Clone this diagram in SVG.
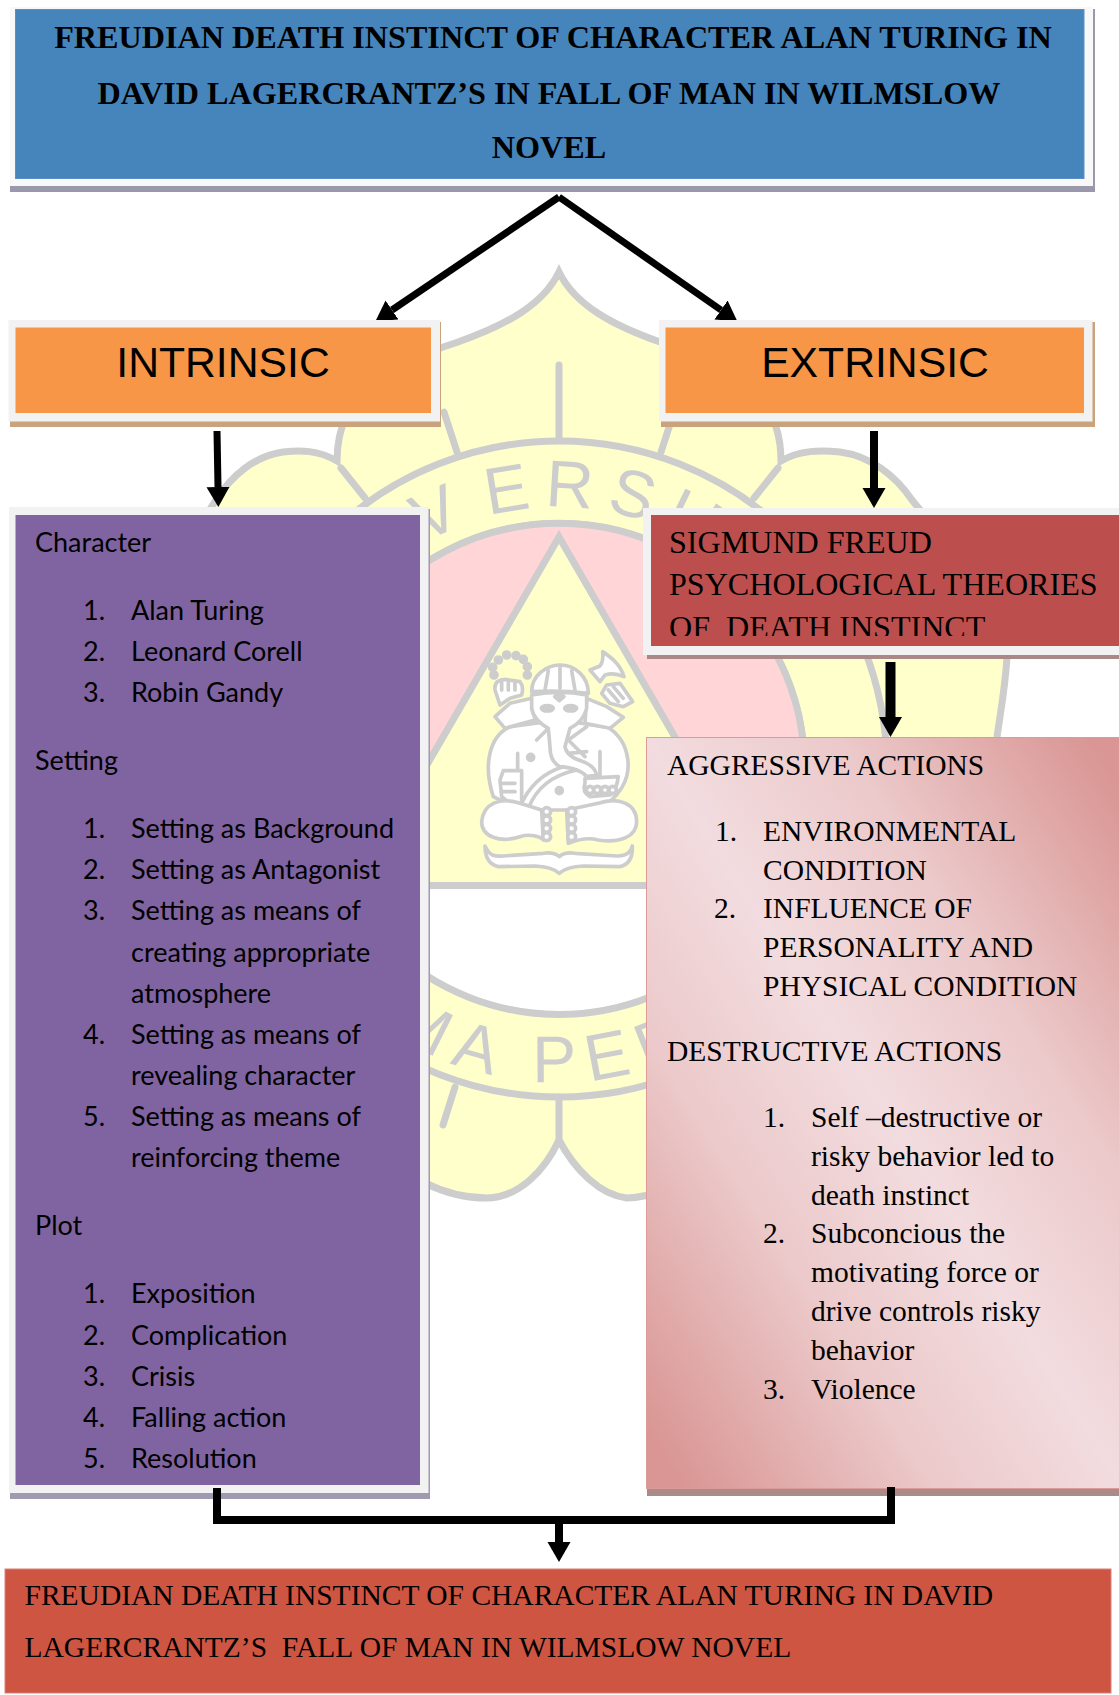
<svg xmlns="http://www.w3.org/2000/svg" width="1119" height="1695" viewBox="0 0 1119 1695">
<style>
text{fill:#000}
.serif{font-family:"Liberation Serif","Times New Roman",serif;font-size:29.5px}
.big{font-size:32.1px}
.title{font-family:"Liberation Serif","Times New Roman",serif;font-size:32.2px;font-weight:bold;text-anchor:middle}
.head{font-family:"Liberation Sans",Arial,sans-serif;font-size:42.700px;text-anchor:middle}
.cal{font-family:Lato,"Open Sans",sans-serif;font-size:27px}
.wm{fill:#ffffcc;stroke:#cdcdcd;stroke-width:7}
.wl{fill:none;stroke:#cdcdcd;stroke-width:7;stroke-linecap:round}
text.wt{font-family:"Liberation Sans",Arial,sans-serif;font-size:66px;fill:#cdcdcd;letter-spacing:13px}
.g path,.g circle,.g ellipse{stroke:#cdcdcd;stroke-width:11;stroke-linejoin:round;stroke-linecap:round}
.gw{fill:#fff}
.gn{fill:none}
.gd{fill:#cdcdcd;stroke-width:0}
.arrow{stroke:#000;fill:none;marker-end:url(#ah)}
</style>
<defs>
<marker id="ah" markerUnits="userSpaceOnUse" markerWidth="24" markerHeight="24" refX="0" refY="12" orient="auto"><path d="M0 .5L20 12L0 23.5Z" fill="#000"/></marker>
<linearGradient id="pk" x1="1" y1="0" x2="0" y2="1"><stop offset=".04" stop-color="#d99694"/><stop offset=".3" stop-color="#ecc9ca"/><stop offset=".5" stop-color="#f2dcdf"/><stop offset=".7" stop-color="#ecc9ca"/><stop offset=".96" stop-color="#d99694"/></linearGradient>
<clipPath id="cut3"><rect x="650" y="515" width="469" height="121"/></clipPath>
<clipPath id="cutTop"><rect x="0" y="190" width="1119" height="130"/></clipPath>
<path id="arcTop" d="M297 769A262 262 0 0 1 821 769"/>
<path id="arcBot" d="M246 769A313 313 0 0 0 872 769"/>
</defs>
<rect width="1119" height="1695" fill="#fff"/>
<g id="watermark">
<path class="wm" d="M559 272C575 305 612 325 660 342C720 362 781 385 781 461C800 450 820 450 840 452C870 456 895 475 912 500C960 560 1010 600 1007 657C1005 690 1000 715 997 737L950 1000L700 1170C680 1185 650 1198 627 1198C600 1195 575 1170 559 1140C545 1170 520 1197 487 1198C465 1198 445 1193 425 1183L120 1000L116 737L190 540L216 500C232 475 255 456 283 452C300 450 318 450 337 461C337 385 398 362 458 342C506 325 543 305 559 272Z"/>
<circle class="wm" cx="559" cy="769" r="328"/>
<path class="wl" d="M559 365V440M444 412L457 452M674 412L661 452M341 468L365 498M778 468L754 498M559 1097V1140M455 1087L443 1125M663 1087L675 1125"/>
<circle cx="559" cy="769" r="245.500" fill="#fff" stroke="#cdcdcd" stroke-width="7"/>
<path d="M343 885.500A245.500 245.500 0 1 1 775 885.500Z" fill="#ffd5d8" stroke="#cdcdcd" stroke-width="7"/>
<path d="M559 537L357 885.500H761Z" class="wm"/>
<text class="wt"><textPath href="#arcTop" startOffset="178">NI<tspan style="letter-spacing:26px">V</tspan>ERSIT</textPath></text>
<text class="wt"><textPath href="#arcBot" startOffset="312">MA PER</textPath></text>
<g class="g" transform="translate(420 640) scale(.3333)">
<g fill="#cdcdcd"><circle class="gd" cx="222" cy="105" r="9"/><circle class="gd" cx="218" cy="82" r="9"/><circle class="gd" cx="235" cy="60" r="9"/><circle class="gd" cx="260" cy="45" r="9"/><circle class="gd" cx="288" cy="47" r="9"/><circle class="gd" cx="310" cy="58" r="9"/><circle class="gd" cx="322" cy="80" r="9"/><circle class="gd" cx="322" cy="105" r="9"/></g>
<path class="gw" d="M270 260C205 290 190 380 220 470L300 510H530C590 480 640 420 620 340C610 300 590 280 565 262L420 240Z"/>
<path class="gw" d="M225 150C222 125 240 118 255 118L300 125Q312 140 305 165L270 175L240 195Z"/>
<path class="gn" d="M245 125V150M265 122V150M285 125V150"/>
<path class="gw" d="M335 175L270 190L225 230L255 265L345 240ZM500 175L560 200L610 232L570 265L495 250Z"/>
<path class="gw" d="M548 35C570 50 600 70 612 110C590 100 570 100 555 105L540 125L510 90L540 78C550 65 550 50 548 35Z"/>
<path class="gw" d="M560 135L600 130L638 185L610 200L570 190L545 160Z"/>
<path class="gn" d="M580 140L610 175M565 150L595 185"/>
<path class="gw" d="M335 155C335 105 380 75 420 75C465 75 505 110 505 160Q420 150 335 155Z"/>
<path class="gn" d="M420 82V145M385 92L375 150M455 92L465 150"/>
<path class="gw" d="M335 165Q420 150 500 165L500 205Q490 245 450 265L435 320Q440 350 490 365Q525 380 530 405L500 410Q480 385 420 380Q390 365 390 320L385 265Q340 240 335 205Z"/>
<path class="gd" d="M418 158L432 170L418 182L404 170Z"/>
<ellipse class="gd" cx="382" cy="205" rx="18" ry="8"/>
<ellipse class="gd" cx="452" cy="205" rx="18" ry="8"/>
<path class="gn" d="M350 300L380 270M500 260L445 300L495 350M445 340L500 335M293 340V400M540 335V410M300 500C330 430 380 395 430 380M325 505C350 440 400 405 470 390"/>
<circle class="gd" cx="332" cy="352" r="9"/><circle class="gd" cx="418" cy="452" r="9"/>
<path class="gw" d="M250 392H305V500L285 520L270 490L245 470L240 420Z"/>
<path class="gn" d="M245 430H285M245 455H285"/>
<path class="gw" d="M495 415L595 410Q590 450 570 465L510 470Q485 455 495 430Z"/>
<circle class="gw" cx="510" cy="450" r="11"/><circle class="gw" cx="532" cy="450" r="11"/><circle class="gw" cx="555" cy="450" r="11"/><circle class="gw" cx="578" cy="450" r="11"/>
<path class="gw" d="M300 490C240 470 190 490 185 545C185 590 240 610 300 590C330 580 360 590 370 600L365 510Z"/>
<path class="gw" d="M535 490C595 470 650 490 650 545C650 590 600 610 535 600C500 590 470 600 445 610L440 510Z"/>
<g class="gw"><circle cx="380" cy="515" r="12"/><circle cx="380" cy="540" r="12"/><circle cx="380" cy="565" r="12"/><circle cx="380" cy="590" r="12"/><circle cx="455" cy="515" r="12"/><circle cx="455" cy="540" r="12"/><circle cx="455" cy="565" r="12"/><circle cx="455" cy="590" r="12"/></g>
<path class="gw" d="M195 618C210 650 225 650 250 648L370 640Q400 635 418 650Q435 635 465 640L590 648Q630 650 637 618Q640 670 600 680L490 678Q440 680 418 700Q395 680 345 678L235 680Q195 670 195 618Z"/>
</g>
</g>
<g id="node-title">
<rect x="10" y="9" width="1085" height="183" fill="#9a98ab"/>
<rect x="10" y="7" width="1083" height="179" fill="#f8f8f8"/>
<rect x="15.500" y="9.500" width="1068.500" height="169" fill="#4685bb" stroke="#5b8ec9"/>
<text class="title" x="553" y="48">FREUDIAN DEATH INSTINCT OF CHARACTER ALAN TURING IN</text>
<text class="title" x="549" y="104">DAVID LAGERCRANTZ’S IN FALL OF MAN IN WILMSLOW</text>
<text class="title" x="549" y="158">NOVEL</text>
</g>
<g id="node-intrinsic">
<rect x="10" y="322" width="431" height="105" fill="#c9a27e"/>
<rect x="8.500" y="320" width="431.500" height="101.500" fill="#f2f2f2"/>
<rect x="15.500" y="327.500" width="415.500" height="85.500" fill="#f79646"/>
<text class="head" x="223" y="377">INTRINSIC</text>
</g>
<g id="node-extrinsic">
<rect x="661" y="322" width="434" height="105" fill="#c9a27e"/>
<rect x="659" y="320" width="433.500" height="101.500" fill="#f2f2f2"/>
<rect x="665.500" y="327.500" width="418.500" height="85.500" fill="#f79646"/>
<text class="head" x="875" y="377">EXTRINSIC</text>
</g>
<g id="node-elements">
<rect x="10" y="509" width="420" height="990" fill="#a09ab0"/>
<rect x="9" y="507" width="419.500" height="986" fill="#f2f2f2"/>
<rect x="15.500" y="515" width="404.500" height="970" fill="#8064a2"/>
<g class="cal">
<text x="35" y="552">Character</text>
<text x="83" y="620">1.</text><text x="131" y="620">Alan Turing</text>
<text x="83" y="661">2.</text><text x="131" y="661">Leonard Corell</text>
<text x="83" y="702">3.</text><text x="131" y="702">Robin Gandy</text>
<text x="35" y="770">Setting</text>
<text x="83" y="838">1.</text><text x="131" y="838">Setting as Background</text>
<text x="83" y="879">2.</text><text x="131" y="879">Setting as Antagonist</text>
<text x="83" y="920">3.</text><text x="131" y="920">Setting as means of</text>
<text x="131" y="962">creating appropriate</text>
<text x="131" y="1003">atmosphere</text>
<text x="83" y="1044">4.</text><text x="131" y="1044">Setting as means of</text>
<text x="131" y="1085">revealing character</text>
<text x="83" y="1126">5.</text><text x="131" y="1126">Setting as means of</text>
<text x="131" y="1167">reinforcing theme</text>
<text x="35" y="1235">Plot</text>
<text x="83" y="1303">1.</text><text x="131" y="1303">Exposition</text>
<text x="83" y="1345">2.</text><text x="131" y="1345">Complication</text>
<text x="83" y="1386">3.</text><text x="131" y="1386">Crisis</text>
<text x="83" y="1427">4.</text><text x="131" y="1427">Falling action</text>
<text x="83" y="1468">5.</text><text x="131" y="1468">Resolution</text>
</g>
</g>
<g id="node-freud">
<rect x="647" y="510" width="480" height="149" fill="#a88"/>
<rect x="643" y="508" width="484" height="147" fill="#f2f2f2"/>
<rect x="651" y="515" width="476" height="131" fill="#bc4f4d"/>
<g clip-path="url(#cut3)" class="serif big">
<text x="669" y="553">SIGMUND FREUD</text>
<text x="669" y="595">PSYCHOLOGICAL THEORIES</text>
<text x="669" y="638" xml:space="preserve">OF  DEATH INSTINCT</text>
</g>
</g>
<g id="node-actions">
<rect x="647" y="740" width="480" height="756" fill="#ab8a8a"/>
<rect x="646.500" y="737.500" width="480" height="751" fill="url(#pk)" stroke="#dc9a98"/>
<g class="serif">
<text x="667" y="775">AGGRESSIVE ACTIONS</text>
<text x="715" y="841">1.</text><text x="763" y="841">ENVIRONMENTAL</text>
<text x="763" y="880">CONDITION</text>
<text x="714" y="918">2.</text><text x="763" y="918">INFLUENCE OF</text>
<text x="763" y="957">PERSONALITY AND</text>
<text x="763" y="996">PHYSICAL CONDITION</text>
<text x="667" y="1061">DESTRUCTIVE ACTIONS</text>
<text x="763" y="1127">1.</text><text x="811" y="1127">Self –destructive or</text>
<text x="811" y="1166">risky behavior led to</text>
<text x="811" y="1205">death instinct</text>
<text x="763" y="1243">2.</text><text x="811" y="1243">Subconcious the</text>
<text x="811" y="1282">motivating force or</text>
<text x="811" y="1321">drive controls risky</text>
<text x="811" y="1360">behavior</text>
<text x="763" y="1399">3.</text><text x="811" y="1399">Violence</text>
</g>
</g>
<g id="node-conclusion">
<rect x="5" y="1569" width="1106" height="124" fill="#cd5542" stroke="#d9847a"/>
<g class="serif">
<text x="24.500" y="1605">FREUDIAN DEATH INSTINCT OF CHARACTER ALAN TURING IN DAVID</text>
<text x="24.500" y="1657" xml:space="preserve">LAGERCRANTZ’S  FALL OF MAN IN WILMSLOW NOVEL</text>
</g>
</g>
<g id="connectors">
<g clip-path="url(#cutTop)">
<line class="arrow" stroke-width="7" x1="559" y1="197" x2="392" y2="310"/>
<line class="arrow" stroke-width="7" x1="559" y1="197" x2="721" y2="310"/>
</g>
<line class="arrow" stroke-width="7" x1="217" y1="431" x2="218" y2="487"/>
<line class="arrow" stroke-width="8" x1="874" y1="431" x2="874" y2="488"/>
<line class="arrow" stroke-width="10" x1="890.500" y1="662" x2="890.500" y2="717"/>
<path d="M217 1488V1520H891V1487" fill="none" stroke="#000" stroke-width="8"/>
<line class="arrow" stroke-width="8" x1="559" y1="1524" x2="559" y2="1542"/>
</g>
</svg>
